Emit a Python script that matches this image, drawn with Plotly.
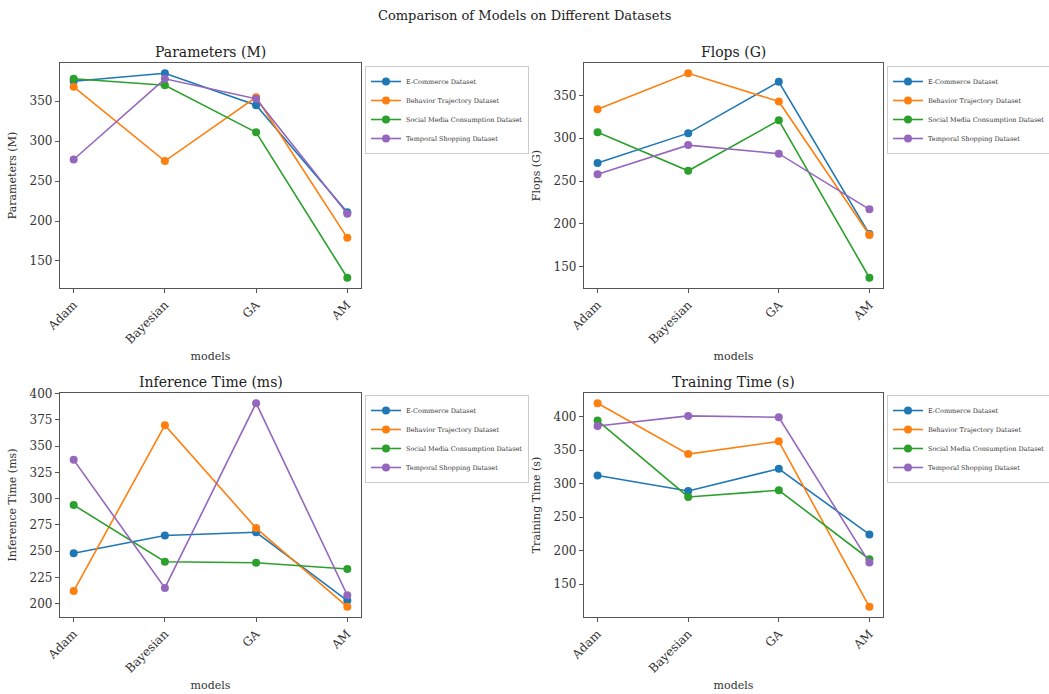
import plotly.graph_objects as go

models = ["Adam", "Bayesian", "GA", "AM"]
datasets = ["E-Commerce Dataset", "Behavior Trajectory Dataset",
            "Social Media Consumption Dataset", "Temporal Shopping Dataset"]
colors = ["#1f77b4", "#ff7f0e", "#2ca02c", "#9467bd"]

params_ecommerce = [375, 385, 345, 211]
params_behavior = [368, 275, 355, 179]
params_social = [378, 370, 311, 129]
params_temporal = [277, 378, 353, 209]

flops_ecommerce = [271, 306, 366, 188]
flops_behavior = [334, 376, 343, 187]
flops_social = [307, 262, 321, 137]
flops_temporal = [258, 292, 282, 217]

infer_ecommerce = [248, 265, 268, 203]
infer_behavior = [212, 370, 272, 197]
infer_social = [294, 240, 239, 233]
infer_temporal = [337, 215, 391, 208]

train_ecommerce = [312, 289, 322, 224]
train_behavior = [420, 344, 363, 116]
train_social = [394, 280, 290, 187]
train_temporal = [386, 401, 399, 182]

tick_steps = [50, 50, 25, 50]

metrics = [
    ("Parameters (M)", [params_ecommerce, params_behavior, params_social, params_temporal]),
    ("Flops (G)", [flops_ecommerce, flops_behavior, flops_social, flops_temporal]),
    ("Inference Time (ms)", [infer_ecommerce, infer_behavior, infer_social, infer_temporal]),
    ("Training Time (s)", [train_ecommerce, train_behavior, train_social, train_temporal]),
]

W, H = 1049, 694
FONT = "DejaVu Serif"

# pixel boxes of the four panels (left, right, top, bottom)
boxes = [(60, 361, 63, 288), (584, 883, 63, 288), (60, 361, 393, 617), (584, 883, 393, 617)]
legend_pos = [(365, 66), (887, 66), (365, 395), (887, 395)]

fig = go.Figure()
layout = dict(
    width=W, height=H, margin=dict(l=0, r=0, t=0, b=0, autoexpand=False),
    paper_bgcolor="white", plot_bgcolor="white",
    font=dict(family=FONT, color="#222", size=11),
    showlegend=True,
)
annotations = [dict(text="Comparison of Models on Different Datasets", x=0.5, y=1 - 15 / H,
                    xref="paper", yref="paper", showarrow=False, xanchor="center", yanchor="middle",
                    font=dict(family=FONT, size=13, color="#222"))]

for i, (title, series) in enumerate(metrics):
    n = i + 1
    xa = "x" if n == 1 else f"x{n}"
    ya = "y" if n == 1 else f"y{n}"
    lg = "legend" if n == 1 else f"legend{n}"
    l, r, t, b = boxes[i]
    allv = [v for s in series for v in s]
    lo, hi = min(allv), max(allv)
    pad = 0.05 * (hi - lo)
    for name, vals, c in zip(datasets, series, colors):
        fig.add_trace(go.Scatter(
            x=models, y=vals, name=name, mode="lines+markers",
            line=dict(color=c, width=1.6), marker=dict(color=c, size=8),
            xaxis=xa, yaxis=ya, legend=lg,
        ))
    axis_common = dict(showline=True, linecolor="#555", linewidth=1.2, mirror=True,
                       ticks="outside", ticklen=4, tickcolor="#555", showgrid=False,
                       zeroline=False, automargin=False,
                       tickfont=dict(family=FONT, size=12, color="#333"))
    layout["xaxis" if n == 1 else f"xaxis{n}"] = dict(
        domain=[l / W, r / W], anchor=ya, type="category", range=[-0.15, 3.15],
        tickangle=-45, title=dict(text="models", font=dict(family=FONT, size=11, color="#333"), standoff=6),
        **axis_common)
    layout["yaxis" if n == 1 else f"yaxis{n}"] = dict(
        domain=[1 - b / H, 1 - t / H], anchor=xa, range=[lo - pad, hi + pad],
        dtick=tick_steps[i], tick0=0,
        title=dict(text=title, font=dict(family=FONT, size=11, color="#333"), standoff=10),
        **axis_common)
    lx, ly = legend_pos[i]
    layout[lg] = dict(x=lx / W, y=1 - ly / H, xanchor="left", yanchor="top",
                      xref="paper", yref="paper",
                      font=dict(family=FONT, size=6.5, color="#333"),
                      bgcolor="rgba(255,255,255,0.8)", bordercolor="#ccc", borderwidth=1,
                      itemwidth=30, tracegroupgap=0)
    annotations.append(dict(text=title, x=(l + r) / 2 / W, y=1 - (t - 1) / H,
                            xref="paper", yref="paper", showarrow=False,
                            xanchor="center", yanchor="bottom",
                            font=dict(family=FONT, size=14, color="#222")))

layout["annotations"] = annotations
fig.update_layout(**layout)
fig.write_html("out.html")
